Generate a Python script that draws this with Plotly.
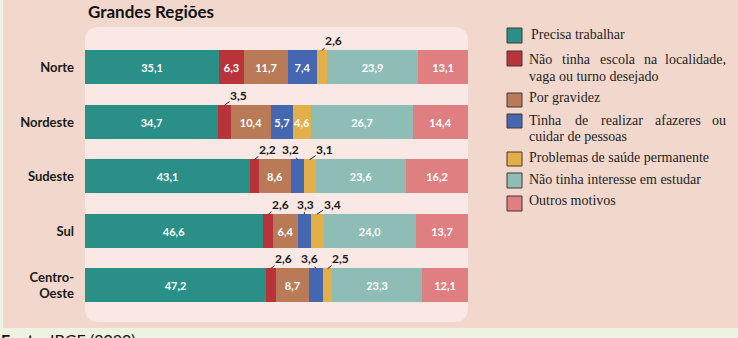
import plotly.graph_objects as go

W, H = 738, 338

regions = ["Norte", "Nordeste", "Sudeste", "Sul", "Centro-Oeste"]
region_labels = ["Norte", "Nordeste", "Sudeste", "Sul", "Centro-<br>Oeste"]

motivos = [
    "Precisa trabalhar",
    "Não tinha escola na localidade, vaga ou turno desejado",
    "Por gravidez",
    "Tinha de realizar afazeres ou cuidar de pessoas",
    "Problemas de saúde permanente",
    "Não tinha interesse em estudar",
    "Outros motivos",
]

precisa_trabalhar = [35.1, 34.7, 43.1, 46.6, 47.2]
sem_escola = [6.3, 3.5, 2.2, 2.6, 2.6]
gravidez = [11.7, 10.4, 8.6, 6.4, 8.7]
afazeres = [7.4, 5.7, 3.2, 3.3, 3.6]
saude = [2.6, 4.6, 3.1, 3.4, 2.5]
sem_interesse = [23.9, 26.7, 23.6, 24.0, 23.3]
outros = [13.1, 14.4, 16.2, 13.7, 12.1]

series = [precisa_trabalhar, sem_escola, gravidez, afazeres, saude, sem_interesse, outros]
colors = ["#2A9087", "#B8343A", "#B97B57", "#4566B1", "#E2AF48", "#8EBDB6", "#E07F81"]

# which values are labelled outside (above the bar) -> pixel offset of the label (dx, dy)
outside = {
    (0, 4): (12, -10),
    (1, 1): (14, -10),
    (2, 1): (13, -10), (2, 3): (-7, -10), (2, 4): (15, -10),
    (3, 1): (12, -10), (3, 3): (1, -10), (3, 4): (15, -10),
    (4, 1): (13, -10), (4, 3): (-6, -10), (4, 4): (13, -10),
}

def fmt(v):
    return f"{v:.1f}".replace(".", ",")

BAR_W = 0.62
fig = go.Figure()
for k, (name, vals, col) in enumerate(zip(motivos, series, colors)):
    texts = ["" if (i, k) in outside else fmt(v) for i, v in enumerate(vals)]
    fig.add_trace(go.Bar(
        y=regions, x=vals, name=name, orientation="h",
        marker=dict(color=col, line=dict(width=0)),
        width=BAR_W, text=texts, textposition="inside", textangle=0,
        insidetextanchor="middle", constraintext="none",
        textfont=dict(family="Lato", size=11, color="white", weight="bold"),
        hoverinfo="skip", showlegend=False,
    ))

annotations = []
for (i, k), (dx, dy) in outside.items():
    start = sum(series[j][i] for j in range(k))
    xc = start + series[k][i] / 2
    annotations.append(dict(
        x=xc, y=i - BAR_W / 2, xref="x", yref="y",
        text=fmt(series[k][i]), showarrow=True, arrowhead=0, arrowwidth=1,
        arrowcolor="#222", ax=dx, ay=dy, standoff=0,
        font=dict(family="Lato", size=12, color="#1a1a1a", weight="bold"),
        borderpad=0,
    ))

def px(x):
    return x / W

def py(y):
    return 1 - y / H

shapes = []
# pink panel
shapes.append(dict(type="rect", xref="paper", yref="paper", x0=px(3), x1=1, y0=py(328), y1=1,
                   fillcolor="#F2D8CC", line=dict(width=0), layer="below"))
# inner rounded rect
x0, x1, y0, y1, r = 85, 468, 27, 322, 14
path = (f"M {px(x0 + r)},{py(y0)} L {px(x1 - r)},{py(y0)} Q {px(x1)},{py(y0)} {px(x1)},{py(y0 + r)} "
        f"L {px(x1)},{py(y1 - r)} Q {px(x1)},{py(y1)} {px(x1 - r)},{py(y1)} "
        f"L {px(x0 + r)},{py(y1)} Q {px(x0)},{py(y1)} {px(x0)},{py(y1 - r)} "
        f"L {px(x0)},{py(y0 + r)} Q {px(x0)},{py(y0)} {px(x0 + r)},{py(y0)} Z")
shapes.append(dict(type="path", xref="paper", yref="paper", path=path,
                   fillcolor="#F9E8E3", line=dict(width=0), layer="below"))

# legend (manual)
leg_sq = [(28, 43), (51, 66), (93, 107), (114, 128), (152, 166), (173, 188), (196, 211)]
for (a, b), col in zip(leg_sq, colors):
    shapes.append(dict(type="rect", xref="paper", yref="paper", x0=px(507), x1=px(522),
                       y0=py(b), y1=py(a), fillcolor=col, line=dict(color="#4a3535", width=1),
                       layer="above"))

LF = dict(family="Liberation Serif", size=14, color="#1e1e1e")

def leg_text(txt, x, y, anchor="left"):
    annotations.append(dict(x=px(x), y=py(y), xref="paper", yref="paper", text=txt,
                            showarrow=False, xanchor=anchor, yanchor="middle", font=LF, borderpad=0))

leg_text("Precisa trabalhar", 530, 35)
# justified line 1 of item 2
for w, x in [("Não", 528), ("tinha", 561), ("escola", 598.5), ("na", 643)]:
    leg_text(w, x, 59)
leg_text("localidade,", 727, 59, "right")
leg_text("vaga ou turno desejado", 528, 76)
leg_text("Por gravidez", 528, 98)
for w, x in [("Tinha", 528), ("de", 573.5), ("realizar", 599.5), ("afazeres", 654)]:
    leg_text(w, x, 120)
leg_text("ou", 727, 120, "right")
leg_text("cuidar de pessoas", 528, 136)
leg_text("Problemas de saúde permanente", 528, 157)
leg_text("Não tinha interesse em estudar", 528, 179)
leg_text("Outros motivos", 528, 200)

# title
annotations.append(dict(x=px(87), y=py(12), xref="paper", yref="paper", text="Grandes Regiões",
                        showarrow=False, xanchor="left", yanchor="middle", borderpad=0,
                        font=dict(family="Lato", size=17, color="#111", weight="bold")))
# footer (cut off at bottom)
annotations.append(dict(x=0, y=py(329), xref="paper", yref="paper",
                        text="<b>Fonte:</b> IBGE (2020)", showarrow=False,
                        xanchor="left", yanchor="top", borderpad=0,
                        font=dict(family="Lato", size=16, color="#111")))

fig.update_layout(
    width=W, height=H, autosize=False,
    margin=dict(l=0, r=0, t=0, b=0),
    paper_bgcolor="#EEF3E1", plot_bgcolor="rgba(0,0,0,0)",
    barmode="stack", bargap=0,
    xaxis=dict(domain=[px(85), px(468)], range=[0, 100], visible=False, fixedrange=True),
    yaxis=dict(domain=[py(312.75), py(40.25)], range=[4.5, -0.5], type="category",
               categoryorder="array", categoryarray=regions,
               tickvals=regions, ticktext=region_labels, ticks="", showgrid=False,
               zeroline=False, showline=False, ticklabelstandoff=10, fixedrange=True,
               tickfont=dict(family="Lato", size=13, color="#1a1a1a", weight="bold")),
    uniformtext=dict(minsize=11, mode="show"),
    shapes=shapes, annotations=annotations, showlegend=False,
)

fig.write_html("out.html", config={"displayModeBar": False},
               post_script="document.body.style.margin='0px';")
